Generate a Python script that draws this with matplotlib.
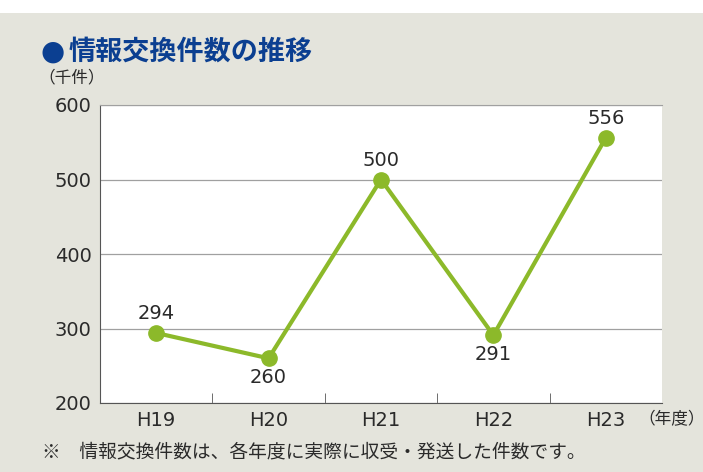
import numpy as np
import matplotlib.pyplot as plt
from matplotlib.patches import Rectangle

plt.rcParams["font.family"] = ["DejaVu Sans", "Noto Sans CJK JP"]

years = ["H19", "H20", "H21", "H22", "H23"]
counts = [294, 260, 500, 291, 556]
label_pos = ["above", "below", "above", "below", "above"]

bg = "#e4e4dc"
green = "#8cb92a"
navy = "#0b3f91"
txt = "#2a2a2a"
jp = ["Noto Sans CJK JP", "DejaVu Sans"]

fig = plt.figure(figsize=(7.03, 4.72), dpi=100)
fig.patch.set_facecolor("white")
fig.patches.append(Rectangle((0, 0), 1, 1 - 13 / 472, transform=fig.transFigure,
                             facecolor=bg, edgecolor="none", zorder=-10))

ax = fig.add_axes([100 / 703, 69 / 472, 562 / 703, 298 / 472])
ax.set_facecolor("white")

x = np.arange(len(years))
ax.plot(x, counts, color=green, linewidth=3, marker="o", markersize=11,
        zorder=3, clip_on=False)
for xi, v, pos in zip(x, counts, label_pos):
    dy = 14 if pos == "above" else -14
    ax.annotate(str(v), (xi, v), xytext=(0, dy), textcoords="offset points",
                ha="center", va="center", fontsize=14, color=txt)

ax.set_xlim(-0.5, 4.5)
ax.set_ylim(200, 600)
ax.set_yticks([200, 300, 400, 500, 600])
ax.yaxis.grid(True, color="#a0a0a0", linewidth=0.9)
ax.set_axisbelow(True)
ax.set_xticks(x)
ax.set_xticklabels(years)
ax.set_xticks(np.arange(0.5, 4.5, 1), minor=True)
ax.tick_params(axis="x", which="major", length=0, pad=6, labelsize=14, labelcolor=txt)
ax.tick_params(axis="x", which="minor", length=7, direction="in", color="#555555")
ax.tick_params(axis="y", length=0, pad=6, labelsize=14, labelcolor=txt)
ax.spines["right"].set_visible(False)
ax.spines["top"].set_color("#a0a0a0")
ax.spines["left"].set_color("#555555")
ax.spines["bottom"].set_color("#555555")

fig.text(40 / 703, 1 - 52 / 472, "●", color=navy, fontsize=20, va="center", ha="left",
         family=["DejaVu Sans"])
fig.text(69 / 703, 1 - 52 / 472, "情報交換件数の推移", color=navy, fontsize=19.5,
         fontweight="bold", va="center", ha="left", family=jp)
fig.text(38 / 703, 1 - 78 / 472, "（千件）", fontsize=12, color=txt, va="center", ha="left",
         family=jp)
fig.text(638 / 703, 1 - 420 / 472, "（年度）", fontsize=12, color=txt, va="center", ha="left",
         family=jp)
fig.text(42 / 703, 1 - 452 / 472, "※　情報交換件数は、各年度に実際に収受・発送した件数です。",
         fontsize=13.5, color=txt, va="center", ha="left", family=jp)

fig.savefig("out.png", dpi=100)
